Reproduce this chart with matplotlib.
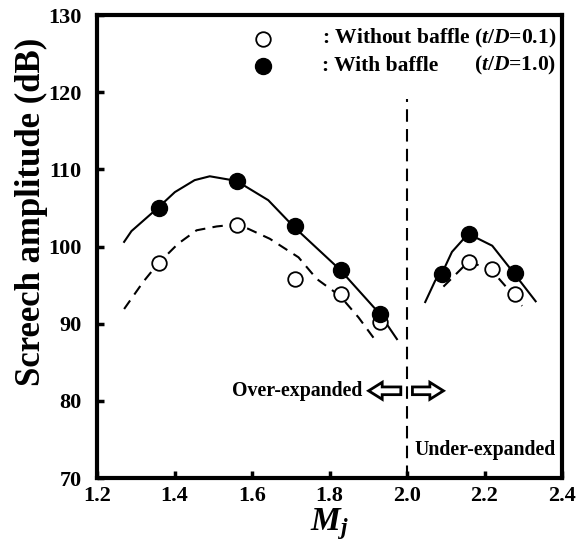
import matplotlib
matplotlib.use("Agg")
import matplotlib.pyplot as plt
from matplotlib.patches import FancyArrow

plt.rcParams['font.family'] = ['Liberation Serif', 'DejaVu Serif']
plt.rcParams['font.weight'] = 'bold'
plt.rcParams['mathtext.fontset'] = 'custom'
plt.rcParams['mathtext.rm'] = 'Liberation Serif:bold'
plt.rcParams['mathtext.it'] = 'Liberation Serif:italic:bold'
plt.rcParams['mathtext.bf'] = 'Liberation Serif:bold'

# measured points
mj_without = [1.36, 1.56, 1.71, 1.83, 1.93, 2.16, 2.22, 2.28]
amp_without = [97.8, 102.85, 95.8, 93.8, 90.2, 98.0, 97.1, 93.9]
mj_with = [1.36, 1.56, 1.71, 1.83, 1.93, 2.09, 2.16, 2.28]
amp_with = [105.0, 108.5, 102.6, 97.0, 91.25, 96.5, 101.65, 96.6]

# fitted curves
fit_with_over_x = [1.270, 1.289, 1.357, 1.401, 1.452, 1.491, 1.560, 1.642, 1.707, 1.827, 1.930, 1.974]
fit_with_over_y = [100.6, 102.0, 105.0, 107.05, 108.6, 109.1, 108.5, 106.0, 102.6, 97.0, 91.25, 88.0]
fit_without_over_x = [1.270, 1.319, 1.357, 1.409, 1.457, 1.509, 1.556, 1.590, 1.646, 1.720, 1.767, 1.827, 1.875, 1.922]
fit_without_over_y = [91.9, 95.4, 97.75, 100.35, 102.1, 102.6, 102.85, 102.3, 101.0, 98.6, 95.8, 93.6, 90.8, 87.6]
fit_with_under_x = [2.047, 2.073, 2.090, 2.116, 2.158, 2.220, 2.275, 2.332]
fit_with_under_y = [92.8, 95.6, 96.5, 99.3, 101.65, 100.1, 96.6, 92.9]
fit_without_under_x = [2.094, 2.158, 2.215, 2.271, 2.297]
fit_without_under_y = [94.8, 98.0, 97.1, 93.9, 92.3]

x_ticks = [1.2, 1.4, 1.6, 1.8, 2.0, 2.2, 2.4]
y_ticks = [70, 80, 90, 100, 110, 120, 130]

fig = plt.figure(figsize=(5.85, 5.44), dpi=100)
ax = fig.add_axes([97/585, 1-478/544, (562-97)/585, (478-15)/544])

ax.plot(fit_with_over_x, fit_with_over_y, color='black', lw=1.5, zorder=2)
ax.plot(fit_with_under_x, fit_with_under_y, color='black', lw=1.5, zorder=2)
ax.plot(fit_without_over_x, fit_without_over_y, color='black', lw=1.5,
        dashes=(5, 3.5), zorder=2)
ax.plot(fit_without_under_x, fit_without_under_y, color='black', lw=1.5,
        dashes=(5, 3.5), zorder=2)

ax.plot(mj_without, amp_without, 'o', ms=10.5, mfc='white', mec='black',
        mew=1.3, ls='none', zorder=3)
ax.plot(mj_with, amp_with, 'o', ms=11.5, mfc='black', mec='black',
        ls='none', zorder=4)

ax.plot([2.0, 2.0], [70, 119.1], color='black', lw=1.5, dashes=(6, 3.5), zorder=1)

ax.set_xlim(1.2, 2.4)
ax.set_ylim(70, 130)
ax.set_xticks(x_ticks)
ax.set_xticklabels([f"{v:.1f}" for v in x_ticks])
ax.set_yticks(y_ticks)
ax.set_yticklabels([str(v) for v in y_ticks])
ax.tick_params(direction='in', length=5, width=2.5, labelsize=16, pad=6)
ax.tick_params(axis='y', pad=11)
for lab in ax.get_xticklabels() + ax.get_yticklabels():
    lab.set_fontweight('bold')
for s in ax.spines.values():
    s.set_linewidth(3)

ax.set_ylabel('Screech amplitude (dB)', fontsize=25, fontweight='bold')
ax.yaxis.set_label_coords(-0.106, 0.575)
ax.set_xlabel(r'$M_j$', fontsize=24, labelpad=0)

# legend
ax.plot([1.629], [126.9], 'o', ms=10.5, mfc='white', mec='black', mew=1.3, clip_on=False)
ax.plot([1.629], [123.4], 'o', ms=11.5, mfc='black', mec='black', clip_on=False)
t1 = ax.text(1.78, 126.9, r': Without baffle ($t$/$D$=0.1)', fontsize=15.5,
             fontweight='bold', va='center', ha='left')
ax.text(1.78, 123.4, ': With baffle', fontsize=15.5, fontweight='bold',
        va='center', ha='left')
fig.canvas.draw()
bb = t1.get_window_extent()
xr = ax.transData.inverted().transform((bb.x1, bb.y0))[0]
ax.text(xr, 123.4, r'($t$/$D$=1.0)', fontsize=15.5, fontweight='bold',
        va='center', ha='right')

# regime annotations
ax.text(1.885, 81.3, 'Over-expanded', fontsize=14.3, fontweight='bold',
        va='center', ha='right')
ax.text(2.019, 73.6, 'Under-expanded', fontsize=14.3, fontweight='bold',
        va='center', ha='left')
ax.add_patch(FancyArrow(1.984, 81.3, -0.083, 0, width=1.0, head_width=2.2,
                        head_length=0.035, length_includes_head=True,
                        fc='white', ec='black', lw=2))
ax.add_patch(FancyArrow(2.014, 81.3, 0.080, 0, width=1.0, head_width=2.2,
                        head_length=0.035, length_includes_head=True,
                        fc='white', ec='black', lw=2))

fig.savefig('out.png', dpi=100)
